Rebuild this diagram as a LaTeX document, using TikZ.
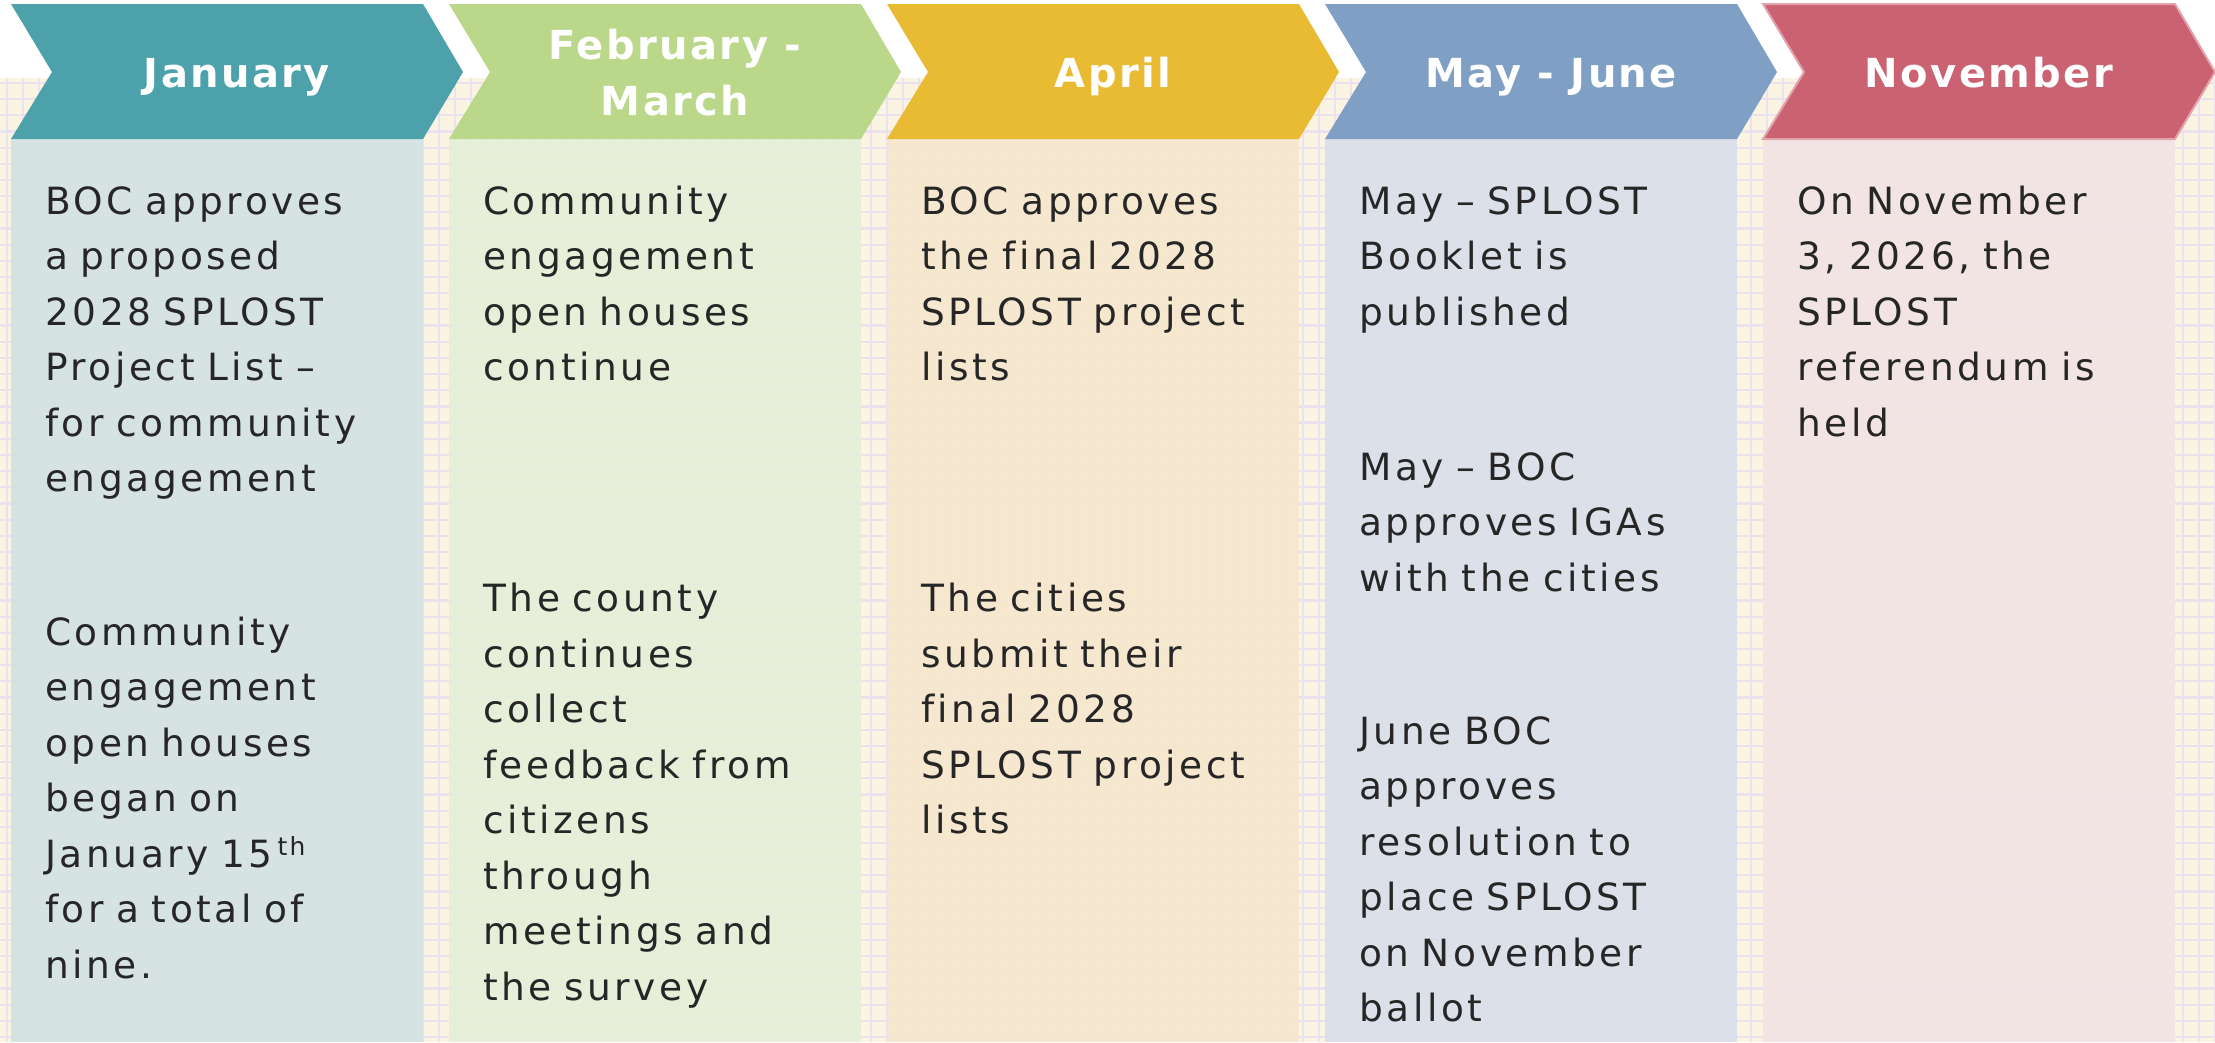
\documentclass[tikz,border=0pt]{standalone}
\usepackage{fontspec}
\setmainfont{DejaVu Sans}[LetterSpace=9.5, Ligatures=NoCommon]
\newfontfamily\hdfont{DejaVu Sans}[LetterSpace=6, Ligatures=NoCommon]
\definecolor{janH}{HTML}{4DA1AA}
\definecolor{janB}{HTML}{D3E2E3}
\definecolor{febH}{HTML}{BAD78A}
\definecolor{febB}{HTML}{E5EFD9}
\definecolor{aprH}{HTML}{E8BB33}
\definecolor{aprB}{HTML}{F6E7CD}
\definecolor{mayH}{HTML}{7F9FC4}
\definecolor{mayB}{HTML}{D9E0EA}
\definecolor{novH}{HTML}{CA6272}
\definecolor{novB}{HTML}{F3E3E5}
\definecolor{novEdge}{HTML}{E3A3AD}
\definecolor{cream}{HTML}{FCF4E3}
\definecolor{gridc}{HTML}{EAE3EE}
\definecolor{txt}{HTML}{262626}
\newcommand\bodysize{\fontsize{37.5}{55.5}\selectfont\spaceskip=18.5pt\relax}
\newcommand\hdsize{\fontsize{40}{40}\selectfont}
\newcommand\fs{\rule{0pt}{40pt}}
\newcommand\tlcolumn[3]{%
  \fill[#3, fill opacity=0.9] (#1,139) rectangle (#1+412,1042);
  \fill[#2] (#1,4) -- (#1+412,4) -- (#1+452,72) -- (#1+412,139) -- (#1,139) -- (#1+41,72) -- cycle;
}
\begin{document}
\begin{tikzpicture}[x=1pt,y=-1pt,
  hd/.style={anchor=base, inner sep=0, text=white, font=\hdfont\bfseries\hdsize},
  body/.style={anchor=north west, inner sep=0, text width=400pt, align=left, text=txt, font=\bodysize},
  gridline/.style={draw=gridc, line width=2.2pt}]
\useasboundingbox (0,0) rectangle (2215,1042);
\fill[white] (0,0) rectangle (2215,1042);
\fill[cream] (0,78) rectangle (2215,1042);
\foreach \i in {0,...,138} \draw[gridline] (7+16*\i,78) -- (7+16*\i,1042);
\foreach \j in {0,...,59} \draw[gridline] (0,83+16.17*\j) -- (2215,83+16.17*\j);
% columns
\tlcolumn{11}{janH}{janB}
\tlcolumn{449}{febH}{febB}
\tlcolumn{887}{aprH}{aprB}
\tlcolumn{1325}{mayH}{mayB}
\tlcolumn{1763}{novH}{novB}
\draw[novEdge, line width=2pt] (1763,4) -- (2175,4) -- (2215,72) -- (2175,139) -- (1763,139) -- (1804,72) -- cycle;
% headers
\node[hd] (h1) at (237,87) {January};
\node[hd] (h2a) at (675,59) {February -};
\node[hd] (h2b) at (675,115) {March};
\node[hd] (h3) at (1113,87) {April};
\node[hd] (h4) at (1551,87) {May - June};
\node[hd] (h5) at (1989,87) {November};
% bodies
\node[body] (c1a) at (45,174) {\fs BOC approves\\a proposed\\2028 SPLOST\\Project List –\\for community\\engagement};
\node[body] (c1b) at (45,605) {\fs Community\\engagement\\open houses\\began on\\January 15\kern5pt\raisebox{12pt}{\fontsize{25}{25}\selectfont th}\\for a total of\\nine.};
\node[body] (c2a) at (483,174) {\fs Community\\engagement\\open houses\\continue};
\node[body] (c2b) at (483,571.7) {\fs The county\\continues\\collect\\feedback from\\citizens\\through\\meetings and\\the survey};
\node[body] (c3a) at (921,174) {\fs BOC approves\\the final 2028\\SPLOST project\\lists};
\node[body] (c3b) at (921,571.7) {\fs The cities\\submit their\\final 2028\\SPLOST project\\lists};
\node[body] (c4a) at (1359,174) {\fs May – SPLOST\\Booklet is\\published};
\node[body] (c4b) at (1359,440) {\fs May – BOC\\approves IGAs\\with the cities};
\node[body] (c4c) at (1359,704) {\fs June BOC\\approves\\resolution to\\place SPLOST\\on November\\ballot};
\node[body] (c5a) at (1797,174) {\fs On November\\3, 2026, the\\SPLOST\\referendum is\\held};
\end{tikzpicture}
\end{document}
